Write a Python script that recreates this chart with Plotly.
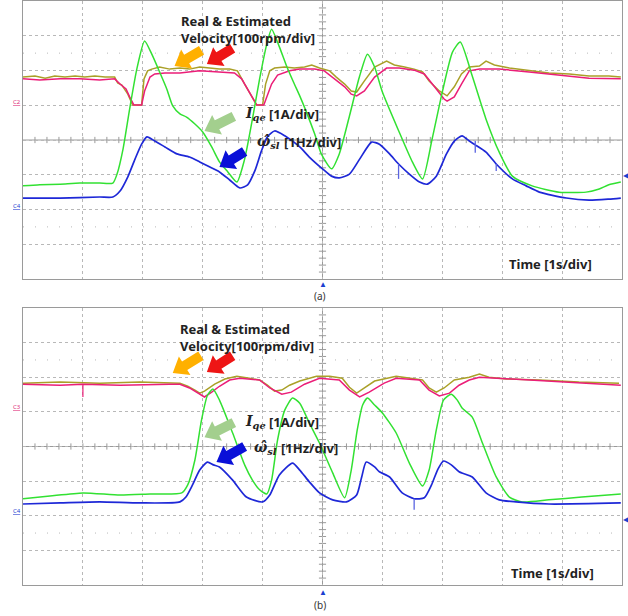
import math
import plotly.graph_objects as go

# ---------------- data (time in s, value in divisions) ----------------
# Panel (a)
a_real_t = [0,0.2,0.37,0.53,0.7,0.87,1.03,1.2,1.37,1.53,1.58,1.65,1.75,1.83,1.98,2.02,2.08,2.15,2.28,2.45,
            2.62,2.78,2.95,3.12,3.28,3.45,3.58,3.7,3.82,3.9,4.0,4.05,4.12,4.2,4.37,4.53,4.7,4.82,4.95,5.12,
            5.23,5.37,5.48,5.57,5.7,5.87,6.07,6.2,6.37,6.53,6.67,6.78,6.95,7.08,7.2,7.32,7.45,7.62,7.73,7.87,
            8.12,8.45,8.78,9.12,9.45,9.78,9.98]
a_real_v = [1.81,1.84,1.78,1.84,1.81,1.84,1.81,1.84,1.81,1.81,1.64,1.58,1.32,1.01,1.01,1.76,1.99,2.04,2.1,2.04,
            2.07,2.04,2.1,2.07,2.04,2.04,1.99,1.61,1.27,1.01,1.01,1.61,1.99,2.07,2.1,2.07,2.1,2.16,2.07,1.99,
            1.81,1.61,1.41,1.38,1.7,2.1,2.27,2.16,2.1,2.04,1.96,1.7,1.41,1.27,1.53,1.9,2.1,2.13,2.27,2.16,
            2.07,2.01,1.93,1.9,1.84,1.84,1.81]
a_est_t = [0,0.28,0.62,0.95,1.28,1.53,1.62,1.72,1.78,1.85,1.98,2.03,2.12,2.2,2.37,2.62,2.95,3.28,3.53,3.65,
           3.78,3.9,4.02,4.07,4.15,4.25,4.45,4.62,4.87,5.03,5.2,5.37,5.48,5.57,5.7,5.87,6.07,6.28,6.53,6.7,
           6.87,7.03,7.08,7.2,7.32,7.45,7.62,7.95,8.45,8.95,9.45,9.98]
a_est_v = [1.76,1.73,1.76,1.76,1.73,1.76,1.61,1.47,1.24,1.01,1.01,1.41,1.81,1.9,1.93,1.93,1.99,1.96,1.93,1.76,
           1.38,1.01,1.01,1.24,1.61,1.87,1.99,2.04,2.04,1.99,1.76,1.53,1.32,1.27,1.41,1.81,2.07,2.07,2.01,1.9,
           1.53,1.18,1.12,1.24,1.61,1.99,2.04,2.04,1.96,1.87,1.78,1.76]
a_iqe_t = [0,0.28,0.62,0.95,1.28,1.5,1.57,1.67,1.78,1.9,2.03,2.15,2.28,2.4,2.5,2.62,2.73,2.87,3.0,3.15,
           3.28,3.42,3.57,3.7,3.83,3.95,4.07,4.15,4.28,4.4,4.53,4.62,4.73,4.87,4.98,5.15,5.28,5.45,5.62,5.75,
           5.87,6.0,6.28,6.5,6.67,6.83,7.0,7.17,7.3,7.5,7.73,7.95,8.17,8.5,8.95,9.4,9.62,9.78,9.98]
a_iqe_v = [-1.32,-1.29,-1.27,-1.24,-1.24,-1.24,-0.98,-0.26,0.89,2.04,2.85,2.47,1.96,1.47,0.98,0.75,0.66,0.46,0.23,-0.2,
           -0.63,-0.92,-1.21,-0.55,0.6,1.76,2.76,3.19,2.68,2.13,1.61,1.27,0.81,0.17,-0.4,-0.83,-0.4,0.69,1.84,2.47,
           2.1,1.38,0.23,-0.63,-1.12,0.03,1.38,2.53,2.82,1.84,0.6,-0.35,-1.04,-1.32,-1.5,-1.5,-1.41,-1.29,-1.21]
a_wsl_t = [0,0.62,1.28,1.5,1.62,1.75,1.87,1.98,2.07,2.2,2.37,2.57,2.78,2.95,3.12,3.28,3.45,3.62,3.75,3.87,
           3.98,4.08,4.2,4.37,4.62,4.78,5.0,5.15,5.28,5.45,5.62,5.82,5.95,6.12,6.27,6.45,6.62,6.75,
           6.9,7.07,7.2,7.33,7.45,7.55,7.73,7.9,8.17,8.4,8.62,9.07,9.45,9.78,9.98]
a_wsl_v = [-1.67,-1.67,-1.64,-1.64,-1.47,-1.06,-0.55,-0.12,0.09,-0.03,-0.2,-0.4,-0.49,-0.63,-0.78,-0.92,-1.15,-1.38,-1.29,-0.89,
           -0.32,0.09,0.26,0.12,-0.2,-0.49,-0.83,-1.04,-1.09,-0.98,-0.55,-0.06,-0.12,-0.4,-0.69,-0.98,-1.21,-1.27,
           -1.04,-0.4,-0.03,0.12,-0.03,-0.14,-0.35,-0.69,-1.12,-1.32,-1.5,-1.67,-1.73,-1.7,-1.67]
# short glitches on the slip-frequency trace (time, top, bottom)
a_glitch_t = [6.27, 7.55, 7.9]
a_glitch_top = [-0.69, -0.03, -0.69]
a_glitch_bot = [-1.12, -0.37, -0.89]

# Panel (b)
b_real_t = [0,0.62,1.28,1.95,2.62,2.75,2.87,2.95,3.03,3.2,3.37,3.57,3.78,3.95,4.08,4.2,4.32,4.45,4.62,4.9,
            5.12,5.33,5.45,5.57,5.7,5.87,6.23,6.45,6.67,6.78,6.9,7.03,7.2,7.45,7.62,7.78,8.07,8.62,9.28,9.95]
b_real_v = [1.83,1.86,1.83,1.86,1.83,1.74,1.63,1.54,1.6,1.8,1.95,2.03,1.97,1.92,1.77,1.6,1.63,1.77,1.89,2.03,
            2.03,1.97,1.71,1.54,1.69,1.89,2.03,1.97,1.92,1.69,1.57,1.69,1.92,2.0,2.09,2.0,1.95,1.92,1.86,1.83]
b_est_t = [0,0.62,1.0,1.62,2.45,2.62,2.78,2.92,3.03,3.15,3.28,3.45,3.62,3.95,4.12,4.32,4.48,4.7,
           4.95,5.28,5.45,5.62,5.78,6.03,6.23,6.62,6.78,6.95,7.12,7.28,7.45,7.62,8.12,8.95,9.98]
b_est_v = [1.8,1.77,1.8,1.77,1.8,1.8,1.69,1.54,1.43,1.57,1.74,1.92,1.97,1.92,1.69,1.51,1.57,1.8,
           1.97,1.92,1.63,1.43,1.57,1.83,1.97,1.92,1.63,1.46,1.54,1.77,1.92,2.0,1.95,1.86,1.77]
b_est_glitch_t = [1.0]
b_est_glitch_top = [1.8]
b_est_glitch_bot = [1.43]
b_iqe_t = [0,0.45,1.0,1.62,2.12,2.65,2.75,2.87,2.98,3.08,3.17,3.28,3.5,3.7,3.83,3.95,4.07,4.15,4.25,4.37,
           4.5,4.62,4.78,4.95,5.17,5.37,5.48,5.58,5.67,5.75,5.87,6.0,6.23,6.45,6.67,6.78,6.9,7.02,7.15,7.25,
           7.33,7.5,7.67,7.9,8.12,8.33,8.78,9.33,9.98]
b_iqe_v = [-1.51,-1.43,-1.34,-1.4,-1.37,-1.34,-1.11,-0.39,0.76,1.48,1.66,1.34,0.39,-0.53,-0.97,-1.25,-1.37,-0.97,0.19,1.05,
           1.4,1.25,0.68,0.1,-0.76,-1.48,-0.68,0.48,1.2,1.4,1.2,0.97,0.39,-0.48,-1.14,-0.68,0.48,1.34,1.51,1.34,
           1.11,0.85,0.1,-0.88,-1.46,-1.6,-1.54,-1.46,-1.37]
b_wsl_t = [0,0.62,1.28,1.95,2.62,2.72,2.83,2.95,3.08,3.18,3.28,3.5,3.73,4.0,4.12,4.28,4.5,4.62,4.78,4.95,
           5.17,5.4,5.57,5.65,5.73,5.87,5.95,6.12,6.33,6.53,6.7,6.82,6.92,7.02,7.15,7.28,7.5,7.73,
           7.95,8.23,8.78,9.98]
b_wsl_v = [-1.66,-1.63,-1.6,-1.63,-1.6,-1.46,-1.11,-0.68,-0.45,-0.53,-0.59,-0.97,-1.46,-1.6,-1.4,-0.82,-0.48,-0.68,-1.02,-1.34,
           -1.54,-1.6,-1.4,-0.91,-0.45,-0.59,-0.73,-0.88,-1.34,-1.51,-1.48,-1.11,-0.68,-0.42,-0.53,-0.73,-0.88,-1.34,
           -1.54,-1.6,-1.66,-1.63]
b_glitch_t = [6.53]
b_glitch_top = [-1.51]
b_glitch_bot = [-1.83]

# ---------------- styling ----------------
W, H = 628, 616
C_REAL = "rgb(170,160,40)"
C_EST = "rgb(235,30,120)"
C_IQE = "rgb(50,225,50)"
C_WSL = "rgb(30,40,215)"
GRID = "#b8b8b8"
FRAME = "#9a9a9a"
FONT = "Noto Sans"

def px(x):
    return x / W

def py(y):
    return 1 - y / H

dom_x = [px(23), px(622)]
dom_a = [py(279), py(1)]
dom_b = [py(585), py(308)]
SX = (622 - 23) / 10.0   # px per second
SY = (279 - 1) / 8.0     # px per division

fig = go.Figure()

def glitch_xy(ts, tops, bots):
    xs, ys = [], []
    for t, a, b in zip(ts, tops, bots):
        xs += [t, t, None]
        ys += [a, b, None]
    return xs, ys

panels = [
    ("x", "y", a_real_t, a_real_v, a_est_t, a_est_v, a_iqe_t, a_iqe_v, a_wsl_t, a_wsl_v,
     ([], [], []), (a_glitch_t, a_glitch_top, a_glitch_bot)),
    ("x2", "y2", b_real_t, b_real_v, b_est_t, b_est_v, b_iqe_t, b_iqe_v, b_wsl_t, b_wsl_v,
     (b_est_glitch_t, b_est_glitch_top, b_est_glitch_bot), (b_glitch_t, b_glitch_top, b_glitch_bot)),
]
for xa, ya, rt, rv, et, ev, it, iv, wt, wv, eg, wg in panels:
    fig.add_trace(go.Scatter(x=rt, y=rv, mode="lines", line=dict(color=C_REAL, width=1.5),
                             xaxis=xa, yaxis=ya, showlegend=False, hoverinfo="skip"))
    fig.add_trace(go.Scatter(x=et, y=ev, mode="lines", line=dict(color=C_EST, width=1.5),
                             xaxis=xa, yaxis=ya, showlegend=False, hoverinfo="skip"))
    gx, gy = glitch_xy(*eg)
    if gx:
        fig.add_trace(go.Scatter(x=gx, y=gy, mode="lines", line=dict(color=C_EST, width=1.2),
                                 xaxis=xa, yaxis=ya, showlegend=False, hoverinfo="skip"))
    fig.add_trace(go.Scatter(x=it, y=iv, mode="lines", line=dict(color=C_IQE, width=1.5, shape="spline", smoothing=0.6),
                             xaxis=xa, yaxis=ya, showlegend=False, hoverinfo="skip"))
    fig.add_trace(go.Scatter(x=wt, y=wv, mode="lines", line=dict(color=C_WSL, width=1.7, shape="spline", smoothing=0.6),
                             xaxis=xa, yaxis=ya, showlegend=False, hoverinfo="skip"))
    gx, gy = glitch_xy(*wg)
    fig.add_trace(go.Scatter(x=gx, y=gy, mode="lines", line=dict(color="rgb(90,100,225)", width=1.3),
                             xaxis=xa, yaxis=ya, showlegend=False, hoverinfo="skip"))

axis_common = dict(showgrid=True, gridcolor=GRID, griddash="dot", gridwidth=1,
                   zeroline=False, showticklabels=False, ticks="",
                   showline=True, mirror=True, linecolor=FRAME, linewidth=1, fixedrange=True)
fig.update_layout(
    width=W, height=H, margin=dict(l=0, r=0, t=0, b=0),
    paper_bgcolor="white", plot_bgcolor="white",
    xaxis=dict(domain=dom_x, range=[0, 10], tick0=0, dtick=1, anchor="y", **axis_common),
    yaxis=dict(domain=dom_a, range=[-4, 4], tick0=-4, dtick=1, anchor="x", **axis_common),
    xaxis2=dict(domain=dom_x, range=[0, 10], tick0=0, dtick=1, anchor="y2", **axis_common),
    yaxis2=dict(domain=dom_b, range=[-4, 4], tick0=-4, dtick=1, anchor="x2", **axis_common),
)

shapes = []
for xr, yr in [("x", "y"), ("x2", "y2")]:
    shapes.append(dict(type="line", xref=xr, yref=yr, x0=0, x1=10, y0=0, y1=0,
                       line=dict(color=FRAME, width=1), layer="below"))
    shapes.append(dict(type="line", xref=xr, yref=yr, x0=5, x1=5, y0=-4, y1=4,
                       line=dict(color=FRAME, width=1), layer="below"))
    for k in range(1, 50):
        xv = k * 0.2
        shapes.append(dict(type="line", xref=xr, yref=yr, x0=xv, x1=xv, y0=-0.09, y1=0.09,
                           line=dict(color=FRAME, width=1), layer="below"))
    for k in range(1, 40):
        yv = -4 + k * 0.2
        shapes.append(dict(type="line", xref=xr, yref=yr, x0=4.94, x1=5.06, y0=yv, y1=yv,
                           line=dict(color=FRAME, width=1), layer="below"))
    for yv in (2.5, -2.5):
        shapes.append(dict(type="line", xref=xr, yref=yr, x0=0, x1=10, y0=yv, y1=yv,
                           line=dict(color=GRID, width=1, dash="1px,11px"), layer="below"))

def block_arrow(xr, yr, hx, hy, tx, ty, color, w1=5.0, w2=11.0, hl=14.0):
    # geometry computed in pixel space, converted back to data units
    X0, Y0 = tx * SX, ty * SY
    X1, Y1 = hx * SX, hy * SY
    L = math.hypot(X1 - X0, Y1 - Y0)
    ux, uy = (X1 - X0) / L, (Y1 - Y0) / L
    nx, ny = -uy, ux
    bx, by = X1 - ux * hl, Y1 - uy * hl
    pts = [(X0 + nx * w1, Y0 + ny * w1), (bx + nx * w1, by + ny * w1), (bx + nx * w2, by + ny * w2),
           (X1, Y1), (bx - nx * w2, by - ny * w2), (bx - nx * w1, by - ny * w1), (X0 - nx * w1, Y0 - ny * w1)]
    path = "M " + " L ".join(f"{p[0] / SX:.4f},{p[1] / SY:.4f}" for p in pts) + " Z"
    shapes.append(dict(type="path", xref=xr, yref=yr, path=path, fillcolor=color,
                       line=dict(width=0), layer="above"))

# arrows panel (a)
block_arrow("x", "y", 2.53, 2.13, 2.98, 2.58, "#FFB000")
block_arrow("x", "y", 3.07, 2.19, 3.5, 2.64, "#EE1515")
block_arrow("x", "y", 3.03, 0.26, 3.52, 0.68, "#A3CF8E")
block_arrow("x", "y", 3.28, -0.78, 3.7, -0.33, "#0A10D8")
# arrows panel (b)
block_arrow("x2", "y2", 2.5, 2.12, 2.97, 2.62, "#FFB000")
block_arrow("x2", "y2", 3.07, 2.15, 3.5, 2.62, "#EE1515")
block_arrow("x2", "y2", 3.03, 0.27, 3.52, 0.69, "#A3CF8E")
block_arrow("x2", "y2", 3.23, -0.45, 3.7, 0.0, "#0A10D8")
fig.update_layout(shapes=shapes)

ann = []
def text(xr, yr, x, y, s, size=13, color="#222", bold=True, family=FONT, xanchor="left", align="left"):
    ann.append(dict(xref=xr, yref=yr, x=x, y=y, text=(f"<b>{s}</b>" if bold else s), showarrow=False,
                    xanchor=xanchor, yanchor="middle", align=align,
                    font=dict(family=family, size=size, color=color)))

text("x", "y", 2.6, 3.18, "Real &amp; Estimated<br>Velocity[100rpm/div]")
text("x", "y", 3.68, 0.75, "<i>I<sub>qe</sub></i>", size=14, family="DejaVu Serif")
text("x", "y", 4.08, 0.75, "[1A/div]")
text("x", "y", 3.88, -0.06, "<i>ω̂<sub>sl</sub></i>", size=14, family="DejaVu Serif")
text("x", "y", 4.32, -0.06, "[1Hz/div]")
text("x", "y", 8.08, -3.57, "Time [1s/div]")
text("x2", "y2", 2.58, 3.14, "Real &amp; Estimated<br>Velocity[100rpm/div]")
text("x2", "y2", 3.68, 0.71, "<i>I<sub>qe</sub></i>", size=14, family="DejaVu Serif")
text("x2", "y2", 4.08, 0.71, "[1A/div]")
text("x2", "y2", 3.82, -0.04, "<i>ω̂<sub>sl</sub></i>", size=14, family="DejaVu Serif")
text("x2", "y2", 4.27, -0.04, "[1Hz/div]")
text("x2", "y2", 8.12, -3.65, "Time [1s/div]")

def ptext(x, y, s, size, color, xanchor="center"):
    ann.append(dict(xref="paper", yref="paper", x=px(x), y=py(y), text=s, showarrow=False,
                    xanchor=xanchor, yanchor="middle", font=dict(family=FONT, size=size, color=color)))

ptext(320, 296, "(a)", 10, "#333")
ptext(320, 605, "(b)", 10, "#333")
ptext(323, 283, "▲", 8, "#1a3fd0")
ptext(323, 591, "▲", 8, "#1a3fd0")
ptext(626, 174, "◀", 8, "#1a3fd0")
ptext(626, 518, "◀", 8, "#1a3fd0")
ptext(17, 102, "<u>C2</u>", 6, "#e0307a")
ptext(17, 206, "<u>C4</u>", 6, "#2a3fd0")
ptext(17, 407, "<u>C3</u>", 6, "#e0307a")
ptext(17, 511, "<u>C4</u>", 6, "#2a3fd0")

fig.update_layout(annotations=ann)
fig.write_html("out.html")
